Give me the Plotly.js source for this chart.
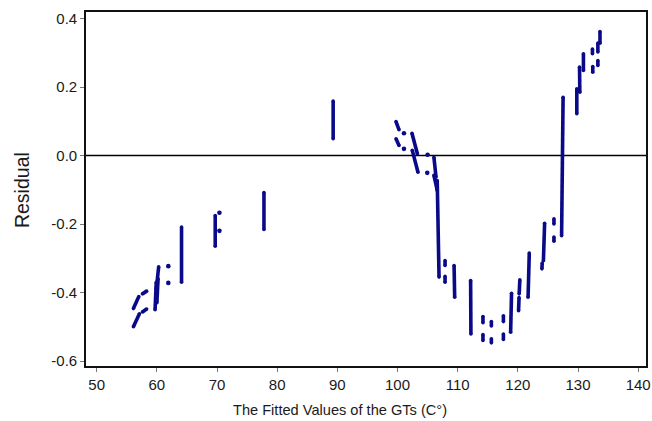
<!DOCTYPE html>
<html>
<head>
<meta charset="utf-8">
<script src="https://cdn.plot.ly/plotly-3.0.1.min.js"></script>
<style>html,body{margin:0;padding:0;background:#fff;}#chart{width:652px;height:421px;}</style>
</head>
<body>
<div id="chart"></div>
<script>
// Residual streaks: each streak runs from (segX0, segY0) to (segX1, segY1)
const segX0 = [56.1, 56.1, 57.6, 57.6, 59.7, 60.0, 59.9, 64.1, 69.7, 77.8, 89.3,
  99.75, 99.75, 102.4, 102.45, 106.05, 106.05, 106.6, 107.9, 107.9, 109.4, 112.15,
  114.2, 114.2, 115.6, 115.6, 117.6, 117.6, 118.95, 120.33, 120.2, 121.9, 124.45, 124.05,
  126.0, 126.0, 127.52, 129.8, 130.25, 130.9, 132.4, 132.45, 133.3, 133.3, 133.65];
const segY0 = [-0.500, -0.447, -0.457, -0.404, -0.450, -0.430, -0.390, -0.209, -0.175, -0.108, 0.159,
  0.099, 0.049, 0.065, 0.015, -0.005, -0.058, -0.073, -0.307, -0.353, -0.321, -0.365,
  -0.470, -0.523, -0.485, -0.535, -0.468, -0.521, -0.402, -0.363, -0.415, -0.285, -0.198, -0.314,
  -0.185, -0.238, 0.170, 0.195, 0.258, 0.297, 0.311, 0.260, 0.328, 0.277, 0.362];
const segX1 = [57.1, 57.0, 58.3, 58.3, 59.9, 60.2, 60.3, 64.1, 69.7, 77.8, 89.3,
  100.25, 100.25, 103.3, 103.4, 106.4, 106.6, 106.9, 107.9, 107.9, 109.5, 112.2,
  114.2, 114.2, 115.6, 115.6, 117.6, 117.6, 118.8, 120.22, 120.12, 121.7, 124.25, 124.0,
  126.0, 126.0, 127.27, 129.8, 130.3, 130.9, 132.4, 132.45, 133.3, 133.3, 133.65];
const segY1 = [-0.462, -0.412, -0.448, -0.396, -0.370, -0.360, -0.325, -0.370, -0.265, -0.216, 0.049,
  0.075, 0.029, 0.005, -0.049, -0.063, -0.102, -0.355, -0.321, -0.370, -0.414, -0.521,
  -0.488, -0.540, -0.498, -0.547, -0.485, -0.537, -0.516, -0.404, -0.453, -0.414, -0.307, -0.331,
  -0.200, -0.250, -0.234, 0.122, 0.185, 0.248, 0.297, 0.243, 0.302, 0.263, 0.328];
// Isolated residual points
const dotX = [61.9, 61.9, 70.4, 70.4, 101.07, 101.07, 105.0, 104.94];
const dotY = [-0.323, -0.372, -0.167, -0.220, 0.065, 0.0195, 0.002, -0.0506];
// Axis ticks
const xTicks = [50, 60, 70, 80, 90, 100, 110, 120, 130, 140];
const yTicks = [-0.6, -0.4, -0.2, 0.0, 0.2, 0.4];
const yTickText = ["-0.6", "-0.4", "-0.2", "0.0", "0.2", "0.4"];
const xTitle = 'The Fitted Values of the GTs (C°)';
const yTitle = 'Residual';

const navy = '#0a0a88';
const sx = [], sy = [];
for (let i = 0; i < segX0.length; i++) {
  sx.push(segX0[i], segX1[i], null);
  sy.push(segY0[i], segY1[i], null);
}
const traces = [
  {x: sx, y: sy, type: 'scatter', mode: 'lines+markers', connectgaps: false,
   line: {color: navy, width: 3.6}, marker: {color: navy, size: 3.6}},
  {x: dotX, y: dotY, type: 'scatter', mode: 'markers',
   marker: {color: navy, size: 4.6}}
];
const fam = 'Liberation Sans, Arial, sans-serif';
const tickFont = {family: fam, size: 15, color: '#1a1a1a'};
const layout = {
  width: 652, height: 421,
  margin: {l: 86, r: 6, t: 12, b: 55},
  paper_bgcolor: '#fff', plot_bgcolor: '#fff',
  showlegend: false,
  font: tickFont,
  xaxis: {
    range: [48.22, 141.3], tickmode: 'array', tickvals: xTicks,
    showgrid: false, zeroline: false,
    showline: true, linecolor: '#111', linewidth: 1.8, mirror: true,
    ticks: 'outside', ticklen: 4, tickcolor: '#777', tickwidth: 1,
    tickfont: tickFont
  },
  yaxis: {
    range: [-0.6146, 0.419], tickmode: 'array', tickvals: yTicks, ticktext: yTickText,
    showgrid: false, zeroline: false,
    showline: true, linecolor: '#111', linewidth: 1.8, mirror: true,
    ticks: 'outside', ticklen: 4, tickcolor: '#777', tickwidth: 1,
    tickfont: tickFont
  },
  annotations: [
    {text: xTitle, xref: 'paper', yref: 'paper', x: 0.4536, y: -0.124,
     xanchor: 'center', yanchor: 'middle', showarrow: false,
     font: {family: fam, size: 14.6, color: '#1a1a1a'}},
    {text: yTitle, xref: 'paper', yref: 'paper', x: -0.1143, y: 0.497,
     xanchor: 'center', yanchor: 'middle', showarrow: false, textangle: -90,
     font: {family: fam, size: 19.5, color: '#1a1a1a'}}
  ],
  shapes: [{type: 'line', xref: 'paper', x0: 0, x1: 1, yref: 'y', y0: 0, y1: 0,
    line: {color: '#000', width: 1.5}, layer: 'below'}]
};
Plotly.newPlot('chart', traces, layout, {staticPlot: true, displayModeBar: false});
</script>
</body>
</html>
